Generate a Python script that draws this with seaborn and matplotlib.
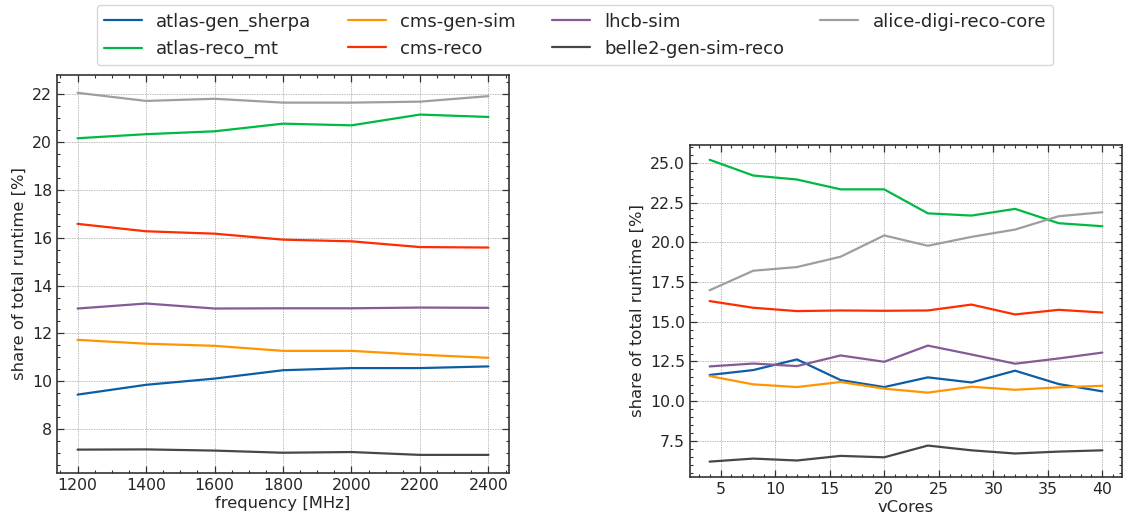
import numpy as np
import pandas as pd
import matplotlib
matplotlib.use("Agg")
import matplotlib.pyplot as plt
import seaborn as sns
from matplotlib.ticker import AutoMinorLocator

series = ["atlas-gen_sherpa", "atlas-reco_mt", "cms-gen-sim", "cms-reco",
          "lhcb-sim", "belle2-gen-sim-reco", "alice-digi-reco-core"]
colors = ["#0C5DA5", "#00B945", "#FF9500", "#FF2C00", "#845B97", "#474747", "#9e9e9e"]

freq = [1200, 1400, 1600, 1800, 2000, 2200, 2400]
freq_atlas_gen_sherpa = [9.44, 9.85, 10.11, 10.46, 10.55, 10.55, 10.62]
freq_atlas_reco_mt = [20.16, 20.33, 20.45, 20.77, 20.70, 21.15, 21.05]
freq_cms_gen_sim = [11.73, 11.57, 11.48, 11.27, 11.27, 11.11, 10.98]
freq_cms_reco = [16.58, 16.27, 16.17, 15.92, 15.85, 15.61, 15.59]
freq_lhcb_sim = [13.04, 13.25, 13.04, 13.05, 13.05, 13.08, 13.07]
freq_belle2 = [7.14, 7.15, 7.10, 7.01, 7.04, 6.92, 6.92]
freq_alice = [22.06, 21.72, 21.81, 21.65, 21.65, 21.69, 21.92]

vcores = [4, 8, 12, 16, 20, 24, 28, 32, 36, 40]
vc_atlas_gen_sherpa = [11.65, 11.96, 12.63, 11.33, 10.89, 11.50, 11.18, 11.92, 11.08, 10.62]
vc_atlas_reco_mt = [25.19, 24.20, 23.95, 23.33, 23.33, 21.82, 21.68, 22.10, 21.20, 21.01]
vc_cms_gen_sim = [11.58, 11.06, 10.89, 11.21, 10.79, 10.54, 10.91, 10.72, 10.87, 10.97]
vc_cms_reco = [16.30, 15.88, 15.67, 15.71, 15.69, 15.71, 16.08, 15.46, 15.75, 15.58]
vc_lhcb_sim = [12.19, 12.37, 12.21, 12.88, 12.48, 13.50, 12.94, 12.36, 12.69, 13.06]
vc_belle2 = [6.20, 6.39, 6.27, 6.56, 6.47, 7.21, 6.91, 6.71, 6.83, 6.91]
vc_alice = [16.98, 18.21, 18.44, 19.09, 20.43, 19.78, 20.34, 20.80, 21.64, 21.89]

freq_vals = [freq_atlas_gen_sherpa, freq_atlas_reco_mt, freq_cms_gen_sim, freq_cms_reco,
             freq_lhcb_sim, freq_belle2, freq_alice]
vc_vals = [vc_atlas_gen_sherpa, vc_atlas_reco_mt, vc_cms_gen_sim, vc_cms_reco,
           vc_lhcb_sim, vc_belle2, vc_alice]

df_f = pd.DataFrame([(x, v, s) for s, vals in zip(series, freq_vals) for x, v in zip(freq, vals)],
                    columns=["x", "y", "job"])
df_v = pd.DataFrame([(x, v, s) for s, vals in zip(series, vc_vals) for x, v in zip(vcores, vals)],
                    columns=["x", "y", "job"])

sns.set_style("ticks")
plt.rcParams["font.family"] = ["DejaVu Sans"]
plt.rcParams["font.size"] = 11

W, H = 1139, 517
fig = plt.figure(figsize=(W / 100, H / 100), dpi=100)
ax1 = fig.add_axes([57 / W, 1 - 473 / H, (509 - 57) / W, (473 - 74.7) / H])
ax2 = fig.add_axes([690 / W, 1 - 476.7 / H, (1122 - 690) / W, (476.7 - 144.7) / H])

palette = dict(zip(series, colors))
for ax, df, xl in [(ax1, df_f, "frequency [MHz]"), (ax2, df_v, "vCores")]:
    sns.lineplot(data=df, x="x", y="y", hue="job", hue_order=series, palette=palette,
                 ax=ax, linewidth=1.6, legend=(ax is ax1))
    ax.set_xlabel(xl, fontsize=11.8, labelpad=2.5)
    ax.set_ylabel("share of total runtime [%]", fontsize=11.8, labelpad=4)
    ax.xaxis.set_minor_locator(AutoMinorLocator())
    ax.yaxis.set_minor_locator(AutoMinorLocator())
    ax.tick_params(which="both", direction="in", top=True, right=True, labelsize=11.3,
                   color="#333333")
    ax.tick_params(which="major", length=5, width=0.9)
    ax.tick_params(which="minor", length=2.5, width=0.8)
    ax.grid(True, which="major", linestyle=(0, (2, 1.5)), linewidth=0.5, color="#a0a0a0")
    for sp in ax.spines.values():
        sp.set_linewidth(1.2)
        sp.set_color("#333333")

ax1.set_xticks(freq)
ax2.set_xticks([5, 10, 15, 20, 25, 30, 35, 40])
ax2.set_yticks([7.5, 10.0, 12.5, 15.0, 17.5, 20.0, 22.5, 25.0])

h, l = ax1.get_legend_handles_labels()
ax1.get_legend().remove()
fig.legend(h, l, ncol=4, loc="upper center", bbox_to_anchor=(0.5048, 1.0), fontsize=13,
           frameon=True, fancybox=True, columnspacing=2.0, handlelength=2.1,
           borderaxespad=0.3)

fig.savefig("out.png", dpi=100)
